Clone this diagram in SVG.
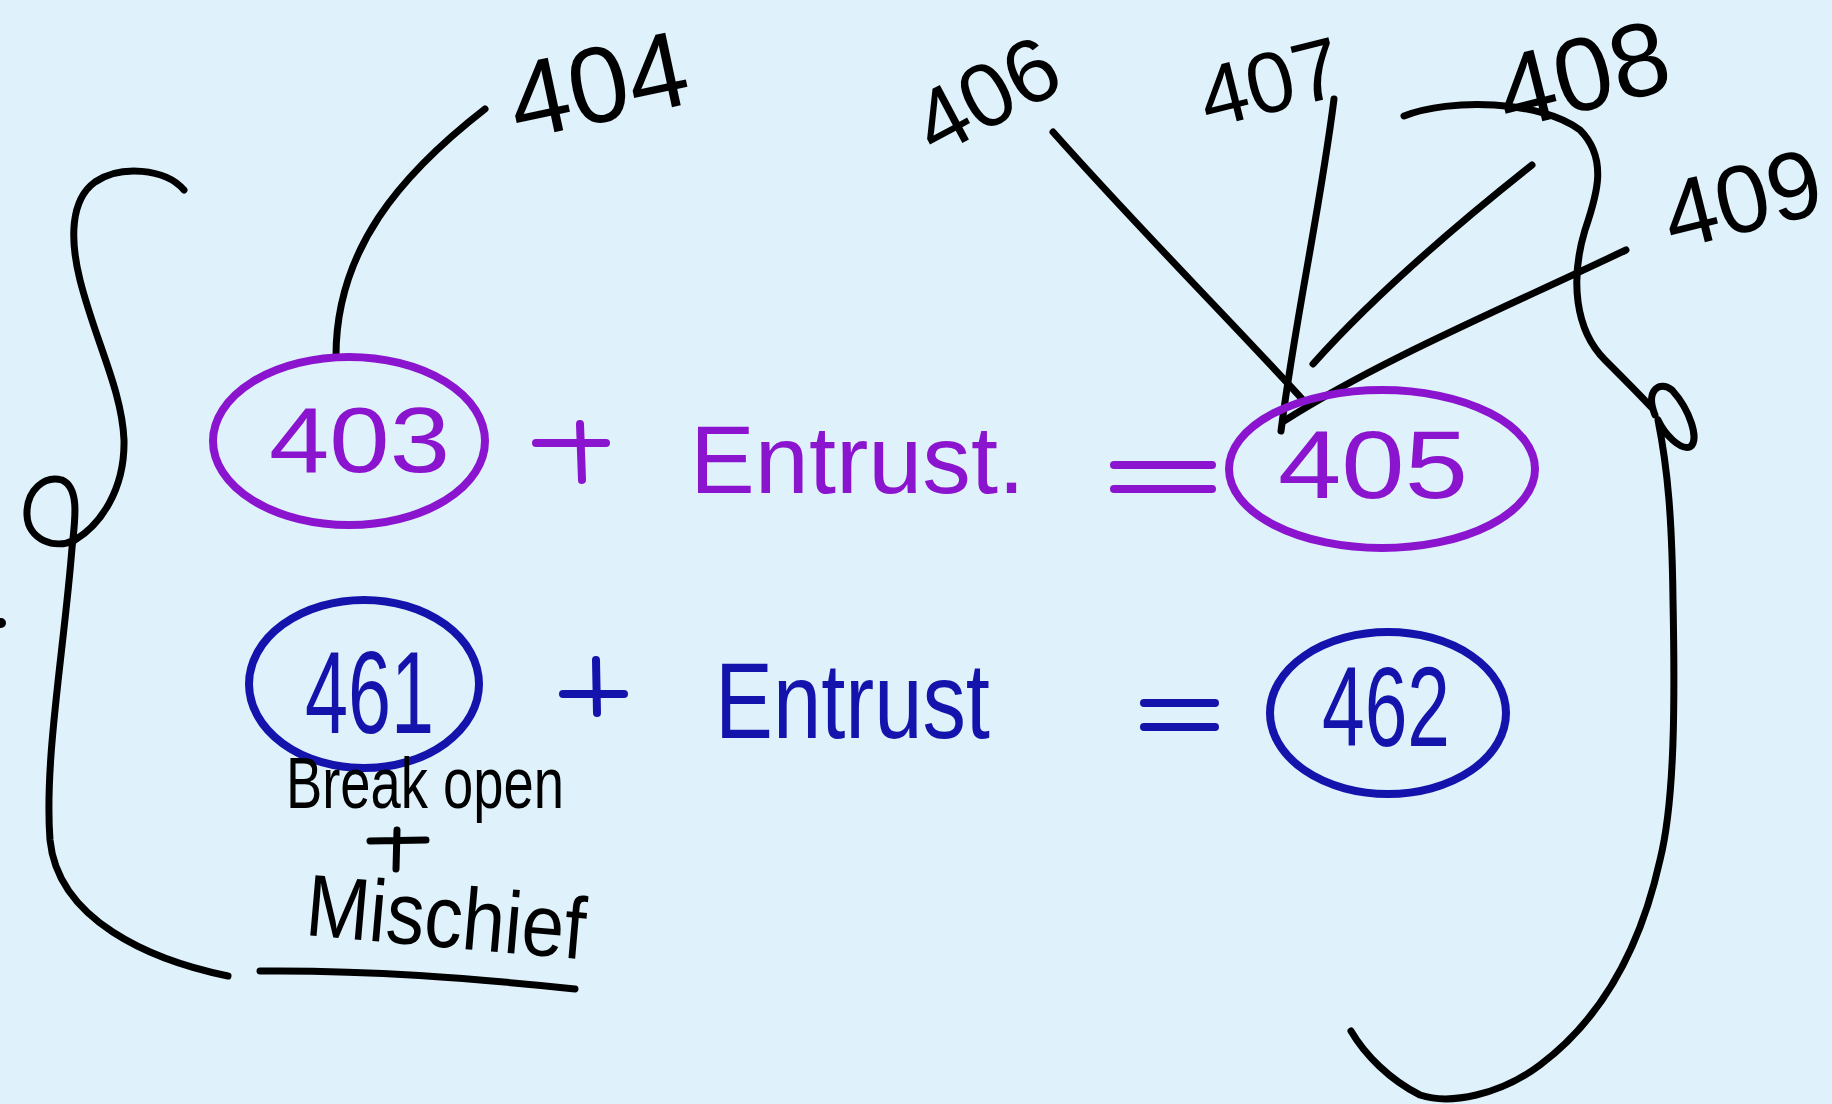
<svg xmlns="http://www.w3.org/2000/svg" width="1832" height="1104" viewBox="0 0 1832 1104">
<style>
.ink{fill:none;stroke:#000;stroke-width:7;stroke-linecap:round;stroke-linejoin:round}
.pu{fill:none;stroke:#8b14cf;stroke-width:8;stroke-linecap:round}
.bl{fill:none;stroke:#1414ad;stroke-width:8;stroke-linecap:round}
.tp{fill:#8b14cf;font-family:"Liberation Sans",Arial,sans-serif}
.tb{fill:#1414ad;font-family:"Liberation Sans",Arial,sans-serif}
.tk{fill:#000;font-family:"Liberation Sans",Arial,sans-serif}
</style>
<rect width="1832" height="1104" fill="#dff2fb"/>
<g id="connectors">
<path class="ink" d="M485,109 C400,175 336,250 336,356"/>
<path class="ink" d="M1053,132 C1140,230 1230,320 1304,401"/>
<path class="ink" d="M1334,99 C1320,210 1295,320 1281,431"/>
<path class="ink" d="M1532,165 C1450,230 1370,300 1313,364"/>
<path class="ink" d="M1626,250 C1500,310 1380,360 1284,421"/>
<path id="left-bracket" class="ink" d="M184,190 C165,168 120,165 95,182 C70,200 70,240 80,280 C95,340 122,390 124,440 C125,490 100,525 75,540 C55,550 28,540 27,515 C26,490 45,475 62,480 C80,488 75,520 72,548 C64,650 44,760 50,840 C58,920 150,960 228,976"/>
<path id="right-bracket" class="ink" d="M1404,116 C1450,98 1540,100 1580,130 C1610,160 1595,200 1585,230 C1570,280 1575,330 1605,360 C1625,380 1640,395 1652,408 M1655,415 C1645,390 1660,380 1672,390 C1690,410 1700,440 1690,447 C1680,450 1665,435 1658,420 C1668,470 1672,520 1673,600 C1675,700 1675,800 1660,860 C1640,950 1600,1020 1540,1065 C1500,1095 1450,1105 1420,1095 C1390,1080 1365,1055 1351,1031"/>
<path id="underline" class="ink" d="M260,971 C370,970 470,978 575,989"/>
<circle cx="1" cy="623" r="5" fill="#000"/>
</g>
<g id="label-404"><text class="tk" x="598" y="122" font-size="108" text-anchor="middle" transform="rotate(-12 598 84)">404</text></g>
<g id="label-406"><text class="tk" x="987" y="126" font-size="90" text-anchor="middle" transform="rotate(-28 987 96)">406</text></g>
<g id="label-407"><text class="tk" x="1270" y="112" font-size="86" text-anchor="middle" transform="rotate(-14 1270 82)">407</text></g>
<g id="label-408"><text class="tk" x="1583" y="110" font-size="104" text-anchor="middle" transform="rotate(-14 1583 75)">408</text></g>
<g id="label-409"><text class="tk" x="1742" y="232" font-size="96" text-anchor="middle" transform="rotate(-14 1742 198)">409</text></g>
<g id="node-403">
<ellipse class="pu" cx="349" cy="441" rx="136" ry="84"/>
<text class="tp" x="269" y="472" font-size="93" textLength="181" lengthAdjust="spacingAndGlyphs">403</text>
</g>
<g id="plus-1"><path class="pu" d="M536,443 L606,443 M580,424 L582,480"/></g>
<g id="entrust-1"><text class="tp" x="690" y="493" font-size="97" textLength="335" lengthAdjust="spacingAndGlyphs">Entrust.</text></g>
<g id="equals-1"><path class="pu" stroke-width="10" d="M1114,465 L1212,465 M1114,489 L1212,489"/></g>
<g id="node-405">
<ellipse class="pu" cx="1382" cy="469" rx="153" ry="79"/>
<text class="tp" x="1278" y="498" font-size="97" textLength="190" lengthAdjust="spacingAndGlyphs">405</text>
</g>
<g id="node-461">
<ellipse class="bl" cx="364" cy="684" rx="115" ry="84"/>
<text class="tb" x="305" y="733" font-size="116" textLength="129" lengthAdjust="spacingAndGlyphs">461</text>
</g>
<g id="plus-2"><path class="bl" d="M563,694 L624,694 M596,660 L597,713"/></g>
<g id="entrust-2"><text class="tb" x="715" y="738" font-size="107" textLength="275" lengthAdjust="spacingAndGlyphs">Entrust</text></g>
<g id="equals-2"><path class="bl" stroke-width="10" d="M1144,703 L1215,703 M1144,727 L1215,727"/></g>
<g id="node-462">
<ellipse class="bl" cx="1388" cy="713" rx="118" ry="81"/>
<text class="tb" x="1322" y="746" font-size="113" textLength="128" lengthAdjust="spacingAndGlyphs">462</text>
</g>
<g id="note">
<text class="tk" x="286" y="808" font-size="72" textLength="278" lengthAdjust="spacingAndGlyphs">Break open</text>
<path class="ink" stroke-width="6" d="M370,841 L426,840 M397,830 L396,869"/>
<text class="tk" x="304" y="935" font-size="88" textLength="280" lengthAdjust="spacingAndGlyphs" transform="rotate(5 304 935)">Mischief</text>
</g>
</svg>
